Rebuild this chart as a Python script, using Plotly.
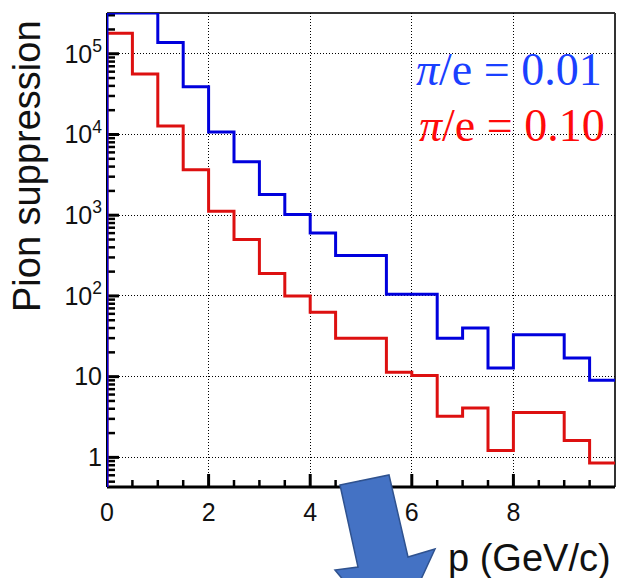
import math
import plotly.graph_objects as go

# ---- data ----
bin_edges = [0, 0.5, 1, 1.5, 2, 2.5, 3, 3.5, 4, 4.5, 5, 5.5, 6, 6.5, 7, 7.5, 8, 8.5, 9, 9.5, 10]
supp_001 = [3.2e5, 3.2e5, 1.38e5, 3.9e4, 1.07e4, 4.6e3, 1.8e3, 1.02e3, 600, 316,
            316, 105, 105, 30, 40, 12.8, 33, 33, 17, 9.0]
supp_010 = [1.8e5, 5.6e4, 1.27e4, 3.66e3, 1.12e3, 500, 190, 100, 63, 30,
            30, 11.3, 10.3, 3.24, 4.1, 1.22, 3.6, 3.6, 1.62, 0.85]
x_tick_vals = [0, 2, 4, 6, 8]
y_tick_vals = [1, 10, 100, 1e3, 1e4, 1e5]
y_tick_text = ["1", "10", "10<sup>2</sup>", "10<sup>3</sup>", "10<sup>4</sup>", "10<sup>5</sup>"]

W, H = 617, 578
L, R, T, B = 107, 615, 13, 487  # plot area in pixels
X_RANGE = [0, 10]
Y_RANGE = [-0.367, 5.505]


def px(x):
    return (x - L) / (R - L)


def py(y):
    return (B - y) / (B - T)


def step(values):
    xs = [bin_edges[0]] + bin_edges[:-1] + [bin_edges[-1]]
    ys = [0.05] + values + [values[-1]]
    return xs, ys


minor_y = [k * 10 ** d for d in range(-1, 6) for k in range(2, 10)
           if Y_RANGE[0] < math.log10(k * 10 ** d) < Y_RANGE[1]]
minor_x = [b for b in bin_edges if b not in x_tick_vals and 0 < b < 10]

fig = go.Figure()

# inside tick marks (ROOT style) as thin line traces in data space
y_bot = 10 ** Y_RANGE[0]
dec_per_px = (Y_RANGE[1] - Y_RANGE[0]) / (B - T)
x_per_px = (X_RANGE[1] - X_RANGE[0]) / (R - L)


def xticks(vals, ln):
    xs, ys = [], []
    for v in vals:
        xs += [v, v, None]
        ys += [y_bot, 10 ** (Y_RANGE[0] + ln * dec_per_px), None]
    return xs, ys


def yticks(vals, ln):
    xs, ys = [], []
    for v in vals:
        xs += [X_RANGE[0], X_RANGE[0] + ln * x_per_px, None]
        ys += [v, v, None]
    return xs, ys


for (xs, ys), w in [(xticks([v for v in x_tick_vals if v > 0], 13), 3), (xticks(minor_x, 7), 2.5),
                    (yticks(y_tick_vals, 12), 3), (yticks(minor_y, 8), 2.5)]:
    fig.add_trace(go.Scatter(x=xs, y=ys, mode="lines", line=dict(color="black", width=w),
                             showlegend=False, hoverinfo="skip", connectgaps=False))

for vals, col in [(supp_010, "#dd1010"), (supp_001, "#0000dd")]:
    xs, ys = step(vals)
    fig.add_trace(go.Scatter(x=xs, y=ys, mode="lines", line=dict(color=col, width=3, shape="hv"),
                             showlegend=False, hoverinfo="skip"))

fig.update_layout(
    width=W, height=H,
    margin=dict(l=L, r=W - R, t=T, b=H - B),
    paper_bgcolor="white", plot_bgcolor="rgba(0,0,0,0)",
    font=dict(family="Liberation Sans, Arial, sans-serif", color="#111"),
    xaxis=dict(
        range=X_RANGE, tickvals=x_tick_vals, ticks="", showline=False, mirror=False,
        showgrid=True, gridcolor="#000", griddash="1px,2px", gridwidth=1,
        tickfont=dict(size=25, color="#111"), zeroline=False, ticklabelstandoff=8,
    ),
    yaxis=dict(
        type="log", range=Y_RANGE, tickvals=y_tick_vals, ticktext=y_tick_text,
        ticks="", showline=False, mirror=False,
        showgrid=True, gridcolor="#000", griddash="1px,2px", gridwidth=1,
        tickfont=dict(size=25, color="#111"), zeroline=False, ticklabelstandoff=4,
    ),
)

# frame (drawn below the traces)
frame = [((0, 1), (1, 1), 2, "#333"), ((1, 1), (1, 0), 2, "#333"),
         ((0, 0), (0, 1), 2, "#000"), ((0, 0), (1, 0), 3, "#000")]
for (x0, y0), (x1, y1), w, c in frame:
    fig.add_shape(type="line", xref="paper", yref="paper", x0=x0, y0=y0, x1=x1, y1=y1,
                  layer="below", line=dict(color=c, width=w))

# axis titles
fig.add_annotation(text="Pion suppression", xref="paper", yref="paper", x=px(27), y=py(166),
                   textangle=-90, showarrow=False, xanchor="center", yanchor="middle",
                   font=dict(size=38, color="#111"))
fig.add_annotation(text="p (GeV/c)", xref="paper", yref="paper", x=px(613), y=py(558),
                   showarrow=False, xanchor="right", yanchor="middle",
                   font=dict(size=38, color="#111"))

# legend texts
fig.add_annotation(text="<i>π</i>/e = 0.01", xref="paper", yref="paper", x=px(604), y=py(70),
                   showarrow=False, xanchor="right", yanchor="middle",
                   font=dict(family="Liberation Serif, Times New Roman, serif", size=46, color="#1a40ff"))
fig.add_annotation(text="<i>π</i>/e = 0.10", xref="paper", yref="paper", x=px(607), y=py(125),
                   showarrow=False, xanchor="right", yanchor="middle",
                   font=dict(family="Liberation Serif, Times New Roman, serif", size=46, color="#ff0a0a"))

# decorative arrow
arrow_px = [(340, 485), (389, 475), (408, 557), (435, 549), (393, 640), (335, 570), (358, 567)]
path = "M " + " L ".join(f"{px(a):.5f},{py(b):.5f}" for a, b in arrow_px) + " Z"
fig.add_shape(type="path", path=path, xref="paper", yref="paper", layer="above",
              fillcolor="#4472C4", line=dict(color="#2F528F", width=1.5))

fig.write_html("out.html")
